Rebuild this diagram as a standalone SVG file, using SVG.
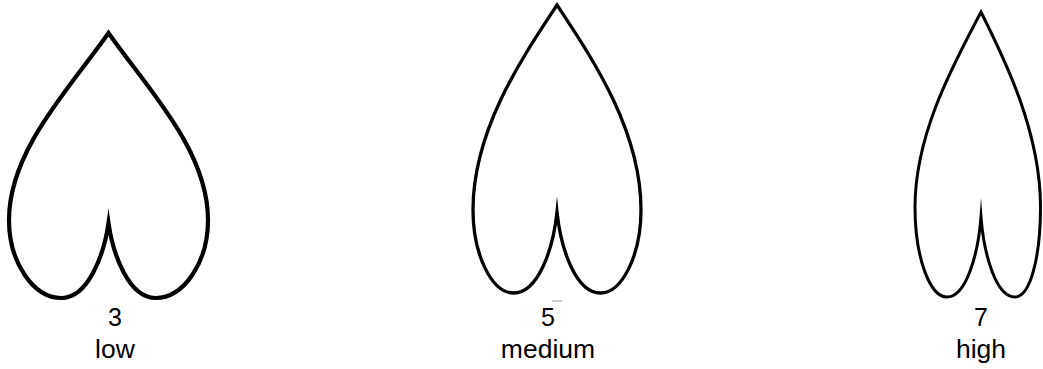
<svg xmlns="http://www.w3.org/2000/svg" width="1043" height="369" viewBox="0 0 1043 369">
  <style>
    .heart { fill: #ffffff; stroke: #000000; stroke-linejoin: miter; stroke-miterlimit: 20; }
    .num { font-family: "Liberation Sans", Arial, sans-serif; font-size: 25px; fill: #000000; text-anchor: middle; }
    .lbl { font-family: "Liberation Sans", Arial, sans-serif; font-size: 26.5px; fill: #000000; text-anchor: middle; }
  </style>
  <rect width="1043" height="369" fill="#ffffff"/>
  <g id="heart-low">
    <path class="heart" stroke-width="4.2" d="M108.5,33 C70,88 9,150 9,220 C9,262 33,298 61.5,298 C88,298 104,255 108.5,223 C113,255 129,298 155.5,298 C184,298 208,262 208,220 C208,150 147,88 108.5,33 Z"/>
    <text class="num" x="115" y="326">3</text>
    <text class="lbl" x="115" y="358">low</text>
  </g>
  <g id="heart-medium">
    <path class="heart" stroke-width="3.3" d="M557,5 C522,58 473,130 473,210 C473,255 492,293 513.5,293 C538,293 553,250 557,212 C561,250 576,293 600.5,293 C622,293 641,255 641,210 C641,130 592,58 557,5 Z"/>
    <line x1="552" y1="301" x2="562" y2="301" stroke="#9a9a9a" stroke-width="1"/>
    <text class="num" x="548" y="326">5</text>
    <text class="lbl" x="548" y="358">medium</text>
  </g>
  <g id="heart-high">
    <path class="heart" stroke-width="3" d="M981,12 C956,60 915,132 915,207 C915,258 930,297 947,297 C966,297 978,255 981,217 C984,255 996,297 1015,297 C1030,297 1040.5,258 1040.5,207 C1040.5,132 1005,60 981,12 Z"/>
    <text class="num" x="981" y="326">7</text>
    <text class="lbl" x="981" y="358">high</text>
  </g>
</svg>
